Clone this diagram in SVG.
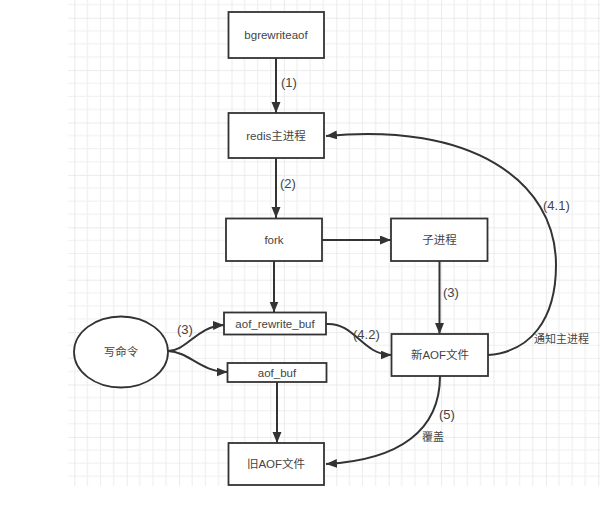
<svg xmlns="http://www.w3.org/2000/svg" width="615" height="511" viewBox="0 0 615 511">
<style>
.box{fill:#fff;stroke:#333;stroke-width:1.8}
.t{font-family:"Liberation Sans","Noto Sans CJK SC",sans-serif;font-size:11.5px;fill:#444;text-anchor:middle;dominant-baseline:central}
.lb{font-family:"Liberation Sans","Noto Sans CJK SC",sans-serif;font-size:13px;fill:#444;dominant-baseline:central}
.ls{font-family:"Liberation Sans","Noto Sans CJK SC",sans-serif;font-size:11px;fill:#444;dominant-baseline:central}
.c{fill:none;stroke:#333;stroke-width:2}
</style>
<defs>
<pattern id="grid" patternUnits="userSpaceOnUse" x="74.3" y="17.7" width="52.4" height="52.4">
<path d="M13.1,0V52.4M26.2,0V52.4M39.3,0V52.4M0,13.1H52.4M0,26.2H52.4M0,39.3H52.4" stroke="#efefef" stroke-width="1.2" fill="none"/>
<path d="M0,0V52.4M0,0H52.4" stroke="#e5e5e5" stroke-width="1.5" fill="none"/>
</pattern>
<marker id="ah" markerUnits="userSpaceOnUse" markerWidth="12" markerHeight="10" refX="11" refY="4.5" orient="auto">
<path d="M0,0L11,4.5L0,9z" fill="#333"/>
</marker>
</defs>
<rect x="0" y="0" width="615" height="511" fill="#fff"/>
<rect x="68" y="0" width="532" height="486" fill="url(#grid)"/>

<g id="connectors">
<path class="c" d="M276,58V113" marker-end="url(#ah)"/>
<path class="c" d="M276,158V218" marker-end="url(#ah)"/>
<path class="c" d="M322,240H391" marker-end="url(#ah)"/>
<path class="c" d="M274,261V312.5" marker-end="url(#ah)"/>
<path class="c" d="M439.5,261V334" marker-end="url(#ah)"/>
<path class="c" d="M277,382V443" marker-end="url(#ah)"/>
<path class="c" d="M168,351C187,351 197,326 224,325" marker-end="url(#ah)"/>
<path class="c" d="M168,351C190,352 200,372 227.5,372" marker-end="url(#ah)"/>
<path class="c" d="M326,324C355,322 362,355 391.5,355" marker-end="url(#ah)"/>
<path class="c" d="M488,355C530,352 556,320 556,265C556,180 470,122 326,136" marker-end="url(#ah)"/>
<path class="c" d="M440,376C440,430 400,460 326,464" marker-end="url(#ah)"/>
<text class="lb" x="281" y="82">(1)</text>
<text class="lb" x="280" y="183">(2)</text>
<text class="lb" x="443" y="292">(3)</text>
<text class="lb" x="177" y="329">(3)</text>
<text class="lb" x="353" y="334">(4.2)</text>
<text class="lb" x="543" y="205">(4.1)</text>
<text class="ls" x="534" y="339">通知主进程</text>
<text class="lb" x="439" y="414">(5)</text>
<text class="ls" x="422" y="437">覆盖</text>
</g>

<g id="bgrewriteaof"><rect class="box" x="228.5" y="12" width="95.5" height="46"/><text class="t" x="276" y="35">bgrewriteaof</text></g>
<g id="redis"><rect class="box" x="228.5" y="113" width="95.5" height="45"/><text class="t" x="276" y="135.5">redis主进程</text></g>
<g id="fork"><rect class="box" x="226" y="218.5" width="96" height="42.5"/><text class="t" x="274" y="240">fork</text></g>
<g id="child"><rect class="box" x="391" y="218.5" width="96.5" height="42.5"/><text class="t" x="439.5" y="240">子进程</text></g>
<g id="aof_rewrite_buf"><rect class="box" x="224" y="312.5" width="102" height="22"/><text class="t" x="275" y="323.5">aof_rewrite_buf</text></g>
<g id="aof_buf"><rect class="box" x="227.5" y="363" width="99" height="19"/><text class="t" x="277" y="372.5">aof_buf</text></g>
<g id="write_cmd"><ellipse cx="121" cy="352" rx="47" ry="35.5" fill="#fff" stroke="#333" stroke-width="1.8"/><text class="t" x="121" y="352">写命令</text></g>
<g id="new_aof"><rect class="box" x="391.5" y="334" width="96.5" height="42"/><text class="t" x="440" y="355">新AOF文件</text></g>
<g id="old_aof"><rect class="box" x="228.5" y="443" width="95.5" height="42"/><text class="t" x="276" y="464">旧AOF文件</text></g>
</svg>
